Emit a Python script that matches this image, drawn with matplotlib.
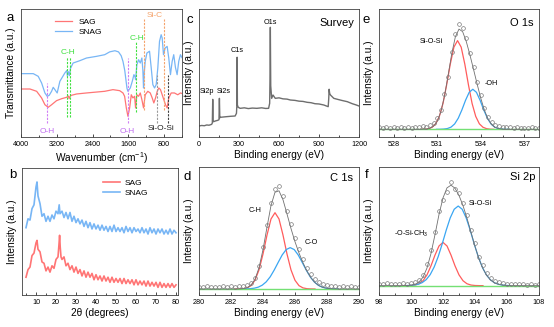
import numpy as np
import matplotlib
matplotlib.use('Agg')
import matplotlib.pyplot as plt
from matplotlib.ticker import MultipleLocator

plt.rcParams['font.family'] = ['Liberation Sans', 'DejaVu Sans']
plt.rcParams['mathtext.fontset'] = 'custom'
plt.rcParams['mathtext.rm'] = 'Liberation Sans'
plt.rcParams['mathtext.it'] = 'Liberation Sans:italic'

# ---- a: FTIR ----
SNAG_WN = [4000, 3850, 3726, 3615, 3539, 3465, 3414, 3369, 3316, 3280, 3242, 3191, 3131, 3020,
           2975, 2962, 2940, 2915, 2895, 2835, 2686, 2536, 2313, 2128, 2017, 1900, 1820, 1760,
           1720, 1680, 1655, 1630, 1609, 1585, 1556, 1512, 1475, 1450, 1438, 1425, 1409, 1371,
           1333, 1297, 1275, 1260, 1245, 1222, 1185, 1126, 1088, 1052, 1014, 977, 941, 903, 866,
           843, 814, 777, 732, 696, 658, 620, 585, 547, 509, 473, 435, 400]
SNAG_T = [49.5, 49.5, 49.5, 47.4, 42.2, 34.4, 31.8, 32.6, 35.7, 38.8, 37, 34.4, 43.5, 50,
          52, 47.5, 51, 48, 53.5, 57.8, 59.6, 61.7, 63, 64.3, 66.5, 67.4, 66.5, 63.5,
          59.1, 52, 45, 38, 35.7, 37, 38.3, 43.5, 48.7, 47, 44.8, 50, 56.5, 60.4,
          57.8, 61.7, 52, 38.3, 50, 59.1, 65.6, 67, 53.9, 40.9, 38.3, 40.9, 53.9, 74.7, 79.9,
          77.3, 64.3, 69.5, 70.8, 61.7, 48.7, 59.1, 64.3, 54.4, 48.7, 59.1, 64.3, 62]
SAG_WN = [4000, 3800, 3650, 3539, 3465, 3392, 3316, 3205, 3093, 2982, 2940, 2925, 2905, 2880,
          2759, 2536, 2128, 1944, 1794, 1720, 1683, 1645, 1609, 1571, 1534, 1498, 1460, 1438,
          1409, 1371, 1333, 1297, 1260, 1222, 1164, 1110, 1066, 1030, 992, 954, 918, 881, 843,
          807, 769, 732, 696, 642, 569, 495, 435, 400]
SAG_T = [37.5, 37.5, 35.7, 30.5, 25.2, 23.2, 25.2, 28.4, 29.9, 31, 32, 30, 31.5, 32.5,
         33.6, 34.4, 35.7, 37, 36.2, 34.4, 31.8, 22.7, 16.2, 22.7, 33, 30.5, 31.8, 22.7,
         33, 31.8, 34.4, 29.2, 22.7, 33, 35.7, 34.4, 30.5, 26.6, 30.5, 35.7, 38.3, 37, 33,
         29.2, 25.2, 22.7, 30.5, 34.4, 34.4, 33, 34.4, 34]

# band assignments (cm-1)
OH_BANDS = [3427, 1610]
CH_BANDS = [2965, 2910, 1430]
SIC_BANDS = [1260, 800]
SIOSI_BANDS = [965, 720]

# ---- b: XRD ----
XRD_SNAG_2T = [5, 6, 7, 8, 9, 10, 10.5, 11, 12, 13, 14, 15, 16, 17, 18, 19, 20, 21, 21.6, 22, 23, 24,
               25, 26, 27, 28, 29, 30, 31, 32, 33, 34, 35, 36, 37, 38, 39, 40, 41, 42, 43, 44, 45,
               46, 47, 48, 49, 50, 51, 52, 53, 54, 55, 56, 57, 58, 59, 60, 61, 62, 63, 64, 65, 66,
               67, 68, 69, 70, 71, 72, 73, 74, 75, 76, 77, 78, 79, 80]
XRD_SNAG = [53, 60, 59, 68, 71, 85, 89, 78, 72, 62, 64, 58, 62, 58, 63, 60, 66, 64, 71, 64, 66, 61,
            65, 60, 65, 58, 62, 57, 60, 56, 59, 54, 58, 53, 57, 52, 56, 52, 55, 51, 55, 51, 54,
            50, 54, 50, 55, 50, 53, 50, 53, 49, 54, 50, 53, 49, 53, 50, 52, 49, 53, 49, 52, 48,
            53, 49, 52, 48, 52, 49, 52, 48, 51, 48, 52, 48, 51, 49]
XRD_SAG_2T = [5, 6, 7, 8, 9, 10, 10.5, 11, 12, 13, 14, 15, 16, 17, 18, 19, 20, 21, 21.5, 21.8, 22.1,
              22.5, 23, 24, 25, 26, 27, 28, 29, 30, 31, 32, 33, 34, 35, 36, 37, 38, 39, 40, 41, 42,
              43, 44, 45, 46, 47, 48, 49, 50, 51, 52, 53, 54, 55, 56, 57, 58, 59, 60, 61, 62, 63,
              64, 65, 66, 67, 68, 69, 70, 71, 72, 73, 74, 75, 76, 77, 78, 79, 80]
XRD_SAG = [14, 20, 22, 31, 33, 41, 43, 36, 34, 26, 25, 19, 22, 18, 23, 21, 28, 30, 40, 47, 38,
           30, 28, 30, 23, 25, 20, 23, 18, 22, 17, 20, 15, 19, 14, 18, 14, 17, 12, 16, 12, 15,
           11, 15, 11, 14, 10, 14, 10, 13, 10, 13, 9, 13, 9, 12, 9, 12, 8, 12, 8, 11, 8,
           11, 7, 11, 7, 10, 7, 10, 6, 10, 6, 9, 6, 9, 6, 9, 6, 8]

# ---- c: XPS survey ----
SURV_BE = [0, 20, 40, 58, 75, 95, 100, 103, 106, 110, 125, 140, 150, 153, 156, 161, 180, 208, 240,
           271, 281, 284, 286, 288, 294, 309, 340, 370, 400, 434, 470, 500, 522, 530, 533, 535,
           538, 545, 555, 572, 600, 630, 660, 685, 720, 750, 780, 811, 840, 870, 900, 936, 969,
           973, 976, 980, 986, 1011, 1040, 1070, 1112, 1150, 1180, 1200]
SURV_I = [8.6, 9.0, 8.8, 9.4, 9.2, 9.9, 11, 29.4, 12, 12, 12.6, 13, 13.5, 30.2, 15, 15.4, 15.6, 15.9,
          16.2, 16.4, 18.5, 25, 62.3, 25, 23.2, 22.4, 22.8, 22.2, 22.6, 22.4, 22.8, 22.3, 22.4, 26.3,
          50, 85.7, 40, 30.2, 32.8, 30.2, 30.6, 29.8, 29.6, 28.9, 28.6, 28.0, 27.8, 27.1, 26.8, 26.0,
          25.8, 25, 23.7, 30, 37.3, 34, 32.8, 30.2, 29.4, 28.6, 27.6, 26.0, 25.0, 24.2]

# ---- d: C 1s ----
C1S_BE = (280, 290)
C1S_RAW = [6.5, 6.0, 6.8, 6.2, 6.6, 6.1, 6.9, 6.3, 6.7, 6.4, 7.0, 7.2, 8.0, 9.5, 13.5, 22.5, 37.5,
           55.0, 72.0, 83.0, 85.5, 77.5, 66.0, 55.5, 44.5, 36.0, 28.5, 21.0, 16.5, 12.5, 10.0, 8.6,
           7.8, 7.0, 7.4, 6.6, 7.0, 6.3, 6.8, 6.2, 6.6]
C1S_FIT = [4.7] * 10 + [4.76, 4.97, 5.66, 7.6, 12.24, 21.26, 35.4, 53.05, 69.9, 80.26, 81.4, 74.4,
                        63.3, 51.9, 41.6, 32.8, 25.15, 18.6, 13.4, 9.64, 7.27, 5.91, 5.22, 4.9,
                        4.77] + [4.7] * 6
C1S_CH_BE = (282.25, 287.25)
C1S_CH = [4.7, 4.75, 4.93, 5.55, 7.3, 11.5, 19.6, 32.0, 46.8, 59.4, 64.3, 59.4, 46.8, 32.0, 19.6,
          11.5, 7.3, 5.55, 4.93, 4.75, 4.7]
C1S_CO_BE = (282.7, 288.7)
C1S_CO = [4.73, 4.79, 4.94, 5.32, 6.12, 7.65, 10.27, 14.2, 19.5, 25.5, 31.3, 35.5, 37.0, 35.5,
          31.3, 25.5, 19.5, 14.2, 10.27, 7.65, 6.12, 5.32, 4.94, 4.79, 4.73]
C1S_BASE = [4.7, 4.7]

# ---- e: O 1s ----
O1S_BE = (527, 538)
O1S_RAW = [7.5, 7.0, 7.8, 7.2, 7.6, 7.1, 7.9, 7.3, 7.7, 7.4, 8.0, 7.6, 8.3, 8.0, 9.2, 10.8, 14.5,
           21.0, 33.5, 47.0, 66.5, 80.5, 88.0, 85.0, 77.0, 66.0, 55.0, 43.0, 32.5, 23.0, 15.5, 11.5,
           9.5, 8.3, 8.0, 7.5, 7.8, 7.2, 7.6, 7.0, 7.4, 7.1, 7.5, 7.0, 7.3]
O1S_FIT = [6.0] * 12 + [6.1, 6.2, 6.8, 8.4, 12.2, 19.6, 31.8, 48.0, 65.0, 78.3, 84.3, 82.3, 74.6,
                        64.2, 52.8, 41.2, 30.2, 20.8, 13.9, 9.65, 7.4, 6.5, 6.1] + [6.0] * 10
O1S_SIOSI_BE = (529.9, 534.9)
O1S_SIOSI = [6.0, 6.1, 6.5, 7.6, 10.3, 16.1, 26.2, 40.7, 56.9, 70.2, 75.3, 70.2, 56.9, 40.7, 26.2,
             16.1, 10.3, 7.6, 6.5, 6.1, 6.0]
O1S_OH_BE = (530.95, 535.95)
O1S_OH = [6.0, 6.05, 6.2, 6.6, 7.7, 10.2, 14.7, 21.2, 28.7, 34.9, 37.3, 34.9, 28.7, 21.2, 14.7,
          10.2, 7.7, 6.6, 6.2, 6.05, 6.0]
O1S_BASE = [6.0, 6.0]

# ---- f: Si 2p ----
SI2P_BE = (98, 108)
SI2P_RAW = [8.8, 8.3, 9.0, 8.5, 8.9, 8.4, 9.1, 8.7, 9.4, 10.0, 12.0, 15.5, 24.0, 35.0, 49.0, 65.5,
            74.0, 80.5, 88.0, 83.0, 80.0, 71.5, 62.5, 50.5, 40.5, 30.0, 23.5, 17.5, 13.5, 11.0, 9.8,
            9.0, 8.8, 8.4, 8.9, 8.3, 8.7, 8.2, 8.6, 8.1, 8.5]
SI2P_FIT = [7.3] * 7 + [7.41, 7.66, 8.35, 10.08, 13.89, 21.08, 32.44, 47.2, 62.9, 75.85, 83.7, 85.8,
                        83.4, 77.8, 69.85, 59.98, 48.98, 37.93, 28.23, 20.5, 14.99, 11.43, 9.35,
                        8.24, 7.7, 7.46, 7.36] + [7.3] * 7
SI2P_CH3_BE = (99.5, 104.5)
SI2P_CH3 = [7.3, 7.33, 7.43, 7.78, 8.78, 11.15, 15.73, 22.8, 31.2, 38.3, 41.1, 38.3, 31.2, 22.8,
            15.73, 11.15, 8.78, 7.78, 7.43, 7.33, 7.3]
SI2P_SIOSI_BE = (99.7, 106.2)
SI2P_SIOSI = [7.37, 7.49, 7.77, 8.4, 9.67, 12.01, 15.92, 21.9, 30.0, 39.9, 50.6, 60.2, 67.0, 69.5,
              67.0, 60.2, 50.6, 39.9, 30.0, 21.9, 15.92, 12.01, 9.67, 8.4, 7.77, 7.49, 7.37]
SI2P_BASE = [7.3, 7.3]

RED, BLUE = '#FF7575', '#78B6F5'
FIT_RED, FIT_BLUE, FIT_GREEN = '#FF5C5C', '#3AA6F2', '#74E074'

W, H = 554, 327
fig = plt.figure(figsize=(W / 100, H / 100), dpi=100)


def frame(px, xlim, major, minor, xlabel, ylabel):
    l, t, r, b = px
    ax = fig.add_axes([l / W, 1 - b / H, (r - l) / W, (b - t) / H])
    ax.set_xlim(*xlim)
    ax.set_ylim(0, 100)
    ax.set_yticks([])
    ax.xaxis.set_major_locator(MultipleLocator(major))
    ax.xaxis.set_minor_locator(MultipleLocator(minor))
    ax.tick_params(axis='x', which='both', direction='in', labelsize=5.2, pad=3, width=0.5)
    ax.tick_params(axis='x', which='major', length=2.5)
    ax.tick_params(axis='x', which='minor', length=1.5)
    ax.set_xlabel(xlabel, fontsize=7.3, labelpad=1.5)
    ax.set_ylabel(ylabel, fontsize=7.3, labelpad=3.5)
    for s in ax.spines.values():
        s.set_linewidth(0.6)
        s.set_color('#404040')
    return ax


def letter(x, y, s):
    fig.text(x / W, 1 - y / H, s, fontsize=9.5, ha='center', va='center')


def xps(ax, be, raw, fit, comps, base):
    for (lo, hi), vals, col in comps:
        ax.plot(np.linspace(lo, hi, len(vals)), vals, color=col, lw=0.9)
    ax.plot(be, base, color=FIT_GREEN, lw=1.0)
    x = np.linspace(be[0], be[1], len(raw))
    ax.plot(x, fit, color='#707070', lw=0.6)
    ax.plot(x, raw, 'o', ms=2.7, mfc='none', mec='#7A7A7A', mew=0.5)


# a
ax = frame((21, 9, 182, 137), (4000, 400), 800, 400,
           r'Wavenumber (cm$\mathregular{^{-1}}$)', 'Transmittance (a.u.)')
ax.plot(SAG_WN, SAG_T, color=RED, lw=0.9, label='SAG')
ax.plot(SNAG_WN, SNAG_T, color=BLUE, lw=0.9, label='SNAG')
dash = dict(ls=(0, (2, 1.2)), lw=0.8)
ax.vlines(OH_BANDS[0], 10.7, 42.2, color='#D07CF5', **dash)
ax.vlines(OH_BANDS[1], 10.7, 61.7, color='#D07CF5', **dash)
ax.vlines(CH_BANDS[:2], 15.9, 62.7, color='#3FE03F', **dash)
ax.vlines(CH_BANDS[2], 19.8, 74.5, color='#3FE03F', **dash)
ax.vlines(SIC_BANDS, 21.1, 92, color='#F5A36B', **dash)
ax.vlines(SIOSI_BANDS[0], 10.7, 48.4, color='#9A9A9A', **dash)
ax.vlines(SIOSI_BANDS[1], 10.7, 48.4, color='#404040', **dash)
ax.text(2953, 66.4, 'C-H', color='#3FE03F', fontsize=6, ha='center', va='center')
ax.text(1416, 77.3, 'C-H', color='#3FE03F', fontsize=6, ha='center', va='center')
ax.text(3421, 4.2, 'O-H', color='#C06EF0', fontsize=6, ha='center', va='center')
ax.text(1616, 4.2, 'O-H', color='#C06EF0', fontsize=6, ha='center', va='center')
ax.text(1014, 95.3, 'Si-C', color='#F5A36B', fontsize=6, ha='center', va='center')
ax.text(859, 7.0, 'Si-O-Si', color='#202020', fontsize=6, ha='center', va='center')
ax.legend(loc='upper left', bbox_to_anchor=(0.21, 0.93), frameon=False, fontsize=6,
          handlelength=2.1, handletextpad=0.7, labelspacing=0.25, borderpad=0, borderaxespad=0)
letter(10, 18, 'a')

# b
ax = frame((22, 168, 178, 295), (3, 81), 10, 5, '2θ (degrees)', 'Intensity (a.u.)')
ax.plot(XRD_SAG_2T, XRD_SAG, color=RED, lw=1.2, label='SAG')
ax.plot(XRD_SNAG_2T, XRD_SNAG, color=BLUE, lw=1.2, label='SNAG')
ax.legend(loc='upper left', bbox_to_anchor=(0.52, 0.915), frameon=False, fontsize=6,
          handlelength=2.0, handletextpad=0.6, labelspacing=0.25, borderpad=0, borderaxespad=0)
letter(13, 175, 'b')

# c
ax = frame((199, 9, 359, 137), (0, 1200), 300, 150, 'Binding energy (eV)', 'Intensity (a.u.)')
ax.plot(SURV_BE, SURV_I, color='#6E6E6E', lw=1.0)
for s, x, y in [('Si2p', 58, 35.4), ('Si2s', 182, 35.4), ('C1s', 287, 67.2), ('O1s', 532, 89.3)]:
    ax.text(x, y, s, fontsize=5.2, ha='center', va='center')
ax.text(1165, 88.8, 'Survey', fontsize=8, ha='right', va='center')
letter(190, 20, 'c')

# d
ax = frame((199, 167, 359, 295), C1S_BE, 2, 1, 'Binding energy (eV)', 'Intensity (a.u.)')
xps(ax, C1S_BE, C1S_RAW, C1S_FIT,
    [(C1S_CH_BE, C1S_CH, FIT_RED), (C1S_CO_BE, C1S_CO, FIT_BLUE)], C1S_BASE)
ax.text(283.5, 65.9, 'C-H', fontsize=5.2, ha='center', va='center')
ax.text(287.0, 41.2, 'C-O', fontsize=5.2, ha='center', va='center')
ax.text(289.65, 91.2, 'C 1s', fontsize=8, ha='right', va='center')
letter(187, 177, 'd')

# e
ax = frame((379, 9, 539, 137), O1S_BE, 3, 1.5, 'Binding energy (eV)', 'Intensity (a.u.)')
xps(ax, O1S_BE, O1S_RAW, O1S_FIT,
    [(O1S_SIOSI_BE, O1S_SIOSI, FIT_RED), (O1S_OH_BE, O1S_OH, FIT_BLUE)], O1S_BASE)
ax.text(530.62, 74.5, 'Si-O-Si', fontsize=5.2, ha='center', va='center')
ax.text(534.75, 42, '-OH', fontsize=5.2, ha='center', va='center')
ax.text(537.6, 89, 'O 1s', fontsize=8, ha='right', va='center')
letter(366, 20, 'e')

# f
ax = frame((379, 167, 539, 295), SI2P_BE, 2, 1, 'Binding energy (eV)', 'Intensity (a.u.)')
xps(ax, SI2P_BE, SI2P_RAW, SI2P_FIT,
    [(SI2P_CH3_BE, SI2P_CH3, FIT_RED), (SI2P_SIOSI_BE, SI2P_SIOSI, FIT_BLUE)], SI2P_BASE)
ax.text(100.04, 47.7, r'-O-Si-CH$\mathregular{_3}$', fontsize=5.2, ha='center', va='center')
ax.text(104.31, 71.6, 'Si-O-Si', fontsize=5.2, ha='center', va='center')
ax.text(107.75, 92.4, 'Si 2p', fontsize=8, ha='right', va='center')
letter(367, 175, 'f')

fig.savefig('out.png', dpi=100)
